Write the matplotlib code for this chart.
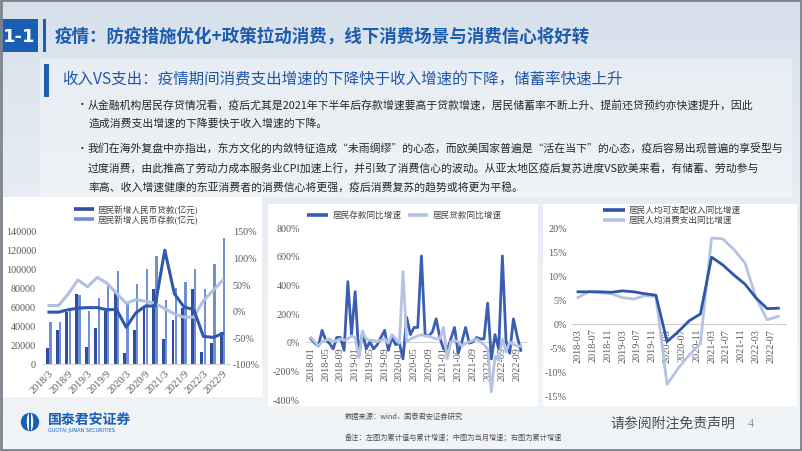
import numpy as np
import matplotlib
matplotlib.use('Agg')
import matplotlib.pyplot as plt
from matplotlib.patches import Rectangle, Ellipse, Circle

plt.rcParams['font.family'] = ['Noto Sans CJK SC', 'DejaVu Sans']

# ---------------- data ----------------
left_cats = ['2018/3', '2018/6', '2018/9', '2018/12', '2019/3', '2019/6', '2019/9', '2019/12',
             '2020/3', '2020/6', '2020/9', '2020/12', '2021/3', '2021/6', '2021/9', '2021/12',
             '2022/3', '2022/6', '2022/9']
new_loans = [17000, 36000, 55000, 74000, 18000, 38000, 56000, 75000, 12000, 36000, 60000, 79000,
             26000, 46000, 59000, 79000, 13000, 22000, 34000]
new_deposits = [44000, 44000, 57000, 73000, 56000, 69000, 84000, 98000, 65000, 84000, 100000, 114000,
                67500, 80000, 86000, 100000, 79000, 105000, 133000]
loan_growth = [-2.5, -2.5, 2, 5, 6, 6, 2, 2.5, -31, -4, 9, 9, 114, 32, 7, 2.5, -48, -50, -43]
deposit_growth = [10, 10, 32, 58, 45, 63, 52, 33, 14, 21, 18, 14, 4, -6, -12, -12, 19, 38, 57]

mid_months = ['2018-01', '2018-02', '2018-03', '2018-04', '2018-05', '2018-06', '2018-07', '2018-08',
              '2018-09', '2018-10', '2018-11', '2018-12', '2019-01', '2019-02', '2019-03', '2019-04',
              '2019-05', '2019-06', '2019-07', '2019-08', '2019-09', '2019-10', '2019-11', '2019-12',
              '2020-01', '2020-02', '2020-03', '2020-04', '2020-05', '2020-06', '2020-07', '2020-08',
              '2020-09', '2020-10', '2020-11', '2020-12', '2021-01', '2021-02', '2021-03', '2021-04',
              '2021-05', '2021-06', '2021-07', '2021-08', '2021-09', '2021-10', '2021-11', '2021-12',
              '2022-01', '2022-02', '2022-03', '2022-04', '2022-05', '2022-06', '2022-07', '2022-08',
              '2022-09', '2022-10']
deposit_yoy = [20, -10, -30, 80, 10, -10, -50, 30, 30, -60, 420, 50, 350, -100, 70, -50, 0, -50, -20, 30,
               80, -60, 30, -20, -10, -120, 170, 50, 100, 100, 600, 50, 40, 70, 160, 30, -50, -60, 20, 100,
               -80, 0, 100, -10, 0, 30, 20, 20, 270, -120, 50, -50, 600, 0, -80, 160, 40, -60]
loan_yoy = [30, 0, -30, 0, 10, 20, 0, 10, 20, 10, 20, 40, 30, -110, 70, 20, 10, 10, 0, 10,
            20, -10, 50, 20, -10, 490, 0, 20, 30, 40, 50, 40, 40, 30, 20, 20, 100, -120, 0, 10,
            0, -30, -10, 0, 10, 20, 0, -20, -50, -350, -100, -130, 20, -70, 0, -20, -30, -30]

right_quarters = ['2018-03', '2018-06', '2018-09', '2018-12', '2019-03', '2019-06', '2019-09', '2019-12',
                  '2020-03', '2020-06', '2020-09', '2020-12', '2021-03', '2021-06', '2021-09', '2021-12',
                  '2022-03', '2022-06', '2022-09']
income_growth = [6.6, 6.6, 6.6, 6.5, 6.8, 6.6, 6.2, 5.9, -3.75, -1.7, 0.6, 2.0, 13.8, 12.2, 10.1, 8.2,
                 5.3, 3.1, 3.2]
consume_growth = [5.4, 6.7, 6.4, 6.2, 5.4, 5.1, 5.8, 5.6, -12.6, -9.3, -6.5, -4.1, 17.8, 17.6, 15.4, 12.6,
                  5.3, 0.8, 1.5]
right_tick_labels = ['2018-03', '2018-07', '2018-11', '2019-03', '2019-07', '2019-11', '2020-03',
                     '2020-07', '2020-11', '2021-03', '2021-07', '2021-11', '2022-03', '2022-07']

# ---------------- figure ----------------
W, H = 802, 452
fig = plt.figure(figsize=(8.02, 4.52), dpi=100)


def rect(x0, y0, x1, y1):
    return [x0 / W, 1 - y1 / H, (x1 - x0) / W, (y1 - y0) / H]


bg = fig.add_axes([0, 0, 1, 1], zorder=0)
bg.set_xlim(0, W)
bg.set_ylim(H, 0)
bg.axis('off')

ys = np.linspace(0, 1, 200)[:, None]
top = np.array([0.84, 0.88, 0.92])
mid = np.array([0.91, 0.93, 0.955])
bot = np.array([0.95, 0.96, 0.97])
g = np.where(ys < 0.45, top + (mid - top) * (ys / 0.45), mid + (bot - mid) * ((ys - 0.45) / 0.55))
grad = np.repeat(g[:, None, :], 2, axis=1).reshape(200, 2, 3)
bg.imshow(grad, extent=[0, W, H, 0], aspect='auto', zorder=0, interpolation='bilinear')

bg.add_patch(Rectangle((40, 60), 752, 138, color='white', alpha=0.35, lw=0, zorder=1))
bg.add_patch(Rectangle((3, 198), 259, 200, color='white', lw=0, zorder=1))
bg.add_patch(Rectangle((268, 205), 270, 202, color='white', lw=0, zorder=1))
bg.add_patch(Rectangle((543, 205), 254, 202, color='white', lw=0, zorder=1))

# title bar
bg.add_patch(Rectangle((0, 20), 38, 33, color='#1a5fb4', lw=0, zorder=2))
bg.text(19, 37, '1-1', color='white', fontsize=13, fontweight='bold', ha='center', va='center',
        family=['DejaVu Sans'], zorder=3)
bg.add_patch(Rectangle((43, 20), 3, 33, color='#1a5fb4', lw=0, zorder=2))
bg.text(55, 37, '疫情：防疫措施优化+政策拉动消费，线下消费场景与消费信心将好转', color='#1b5cae',
        fontsize=12.6, fontweight='bold', ha='left', va='center', zorder=3)

# subtitle
bg.add_patch(Rectangle((44, 65), 5, 33, color='#1a5fb4', lw=0, zorder=2))
bg.text(62, 80, '收入VS支出：疫情期间消费支出增速的下降快于收入增速的下降，储蓄率快速上升', color='#1f56a6',
        fontsize=11.2, fontweight='light', ha='left', va='center', zorder=3)

# bullets
bul_fs = 7.8
lines = [
    (105, True, '从金融机构居民存贷情况看，疫后尤其是2021年下半年后存款增速要高于贷款增速，居民储蓄率不断上升、提前还贷预约亦快速提升，因此'),
    (124, False, '造成消费支出增速的下降要快于收入增速的下降。'),
    (149, True, '我们在海外复盘中亦指出，东方文化的内敛特征造成“未雨绸缪”的心态，而欧美国家普遍是“活在当下”的心态，疫后容易出现普遍的享受型与'),
    (168, False, '过度消费，由此推高了劳动力成本服务业CPI加速上行，并引致了消费信心的波动。从亚太地区疫后复苏进度VS欧美来看，有储蓄、劳动参与'),
    (187, False, '率高、收入增速健康的东亚消费者的消费信心将更强，疫后消费复苏的趋势或将更为平稳。'),
]
for y, b, t in lines:
    if b:
        bg.text(77, y, '•', fontsize=bul_fs, color='#262626', ha='left', va='center', zorder=3)
    bg.text(88, y, t, fontsize=bul_fs, color='#262626', ha='left', va='center', zorder=3)

# footer
bg.add_patch(Circle((30, 423), 8.5, color='#1a5fb4', zorder=2))
bg.add_patch(Ellipse((30, 423), 5, 17, color='white', zorder=3))
bg.add_patch(Rectangle((29.3, 414), 1.4, 18, color='#1a5fb4', lw=0, zorder=4))
bg.text(48, 420, '国泰君安证券', color='#1a5fb4', fontsize=10, fontweight='bold', ha='left', va='center', zorder=3)
bg.text(48, 431, 'GUOTAI JUNAN SECURITIES', color='#1a5fb4', fontsize=3.6, ha='left', va='center',
        family=['DejaVu Sans'], zorder=3)
bg.text(345, 417, '数据来源：wind，国泰君安证券研究', color='#505050', fontsize=5.2, ha='left', va='center', zorder=3)
bg.text(345, 437, '备注：左图为累计值与累计增速；中图为当月增速；右图为累计增速', color='#505050', fontsize=5.2,
        ha='left', va='center', zorder=3)
bg.text(610, 424, '请参阅附注免责声明', color='#4a4a4a', fontsize=10, fontweight='light', ha='left', va='center', zorder=3)
bg.text(748, 424, '4', color='#9a9a9a', fontsize=9, ha='left', va='center', family=['Liberation Serif'], zorder=3)

bg.add_patch(Rectangle((1, 1), W - 2, H - 2, fill=False, edgecolor='#7d848c', lw=2, zorder=5))

SERIF = ['Liberation Serif', 'Noto Sans CJK SC']
TICK_C = '#595959'
TFS = 7.3


def style_axis(ax):
    ax.patch.set_alpha(0)
    for s in ax.spines.values():
        s.set_visible(False)
    ax.tick_params(length=0, labelsize=TFS, labelcolor=TICK_C)


def serif_labels(ax):
    for lab in ax.get_xticklabels() + ax.get_yticklabels():
        lab.set_family(SERIF)


# ---------------- left chart ----------------
axL = fig.add_axes(rect(43, 232, 230, 365), zorder=2)
style_axis(axL)
axL.spines['bottom'].set_visible(True)
axL.spines['bottom'].set_color('#d0d0d0')
xi = np.arange(len(left_cats))
axL.bar(xi - 0.15, new_loans, width=0.3, color='#2f4e9e', zorder=2)
axL.bar(xi + 0.15, new_deposits, width=0.24, color='#6f8fd6', zorder=2)
axL.set_ylim(0, 140000)
axL.set_xlim(-0.62, 18.76)
axL.set_yticks(np.arange(0, 140001, 20000))
axL.set_yticklabels([str(v) for v in range(0, 140001, 20000)])
axL.set_xticks(xi[::2])
axL.set_xticklabels(left_cats[::2], rotation=45, ha='right', rotation_mode='anchor')
axL.tick_params(axis='y', pad=5)
axL.tick_params(axis='x', pad=3)
serif_labels(axL)

axL2 = axL.twinx()
style_axis(axL2)
axL2.plot(xi, deposit_growth, color='#b3c1e0', lw=2.2, zorder=3)
axL2.plot(xi, loan_growth, color='#3158aa', lw=2.2, zorder=4)
axL2.set_ylim(-100, 150)
axL2.set_yticks(np.arange(-100, 151, 50))
axL2.set_yticklabels(['%d%%' % v for v in range(-100, 151, 50)])
axL2.tick_params(axis='y', pad=2)
serif_labels(axL2)

ov = fig.add_axes([0, 0, 1, 1], zorder=6)
ov.set_xlim(0, W)
ov.set_ylim(H, 0)
ov.axis('off')
LFS = 6.2
ov.plot([74, 94], [210, 210], color='#2f4e9e', lw=2.6, solid_capstyle='butt')
ov.text(98, 210, '居民新增人民币贷款(亿元)', fontsize=LFS, color='#404040', va='center', family=SERIF)
ov.plot([74, 94], [220, 220], color='#6f8fd6', lw=2.6, solid_capstyle='butt')
ov.text(98, 220, '居民新增人民币存款(亿元)', fontsize=LFS, color='#404040', va='center', family=SERIF)

# ---------------- middle chart ----------------
axM = fig.add_axes(rect(305.5, 228.3, 526.3, 400), zorder=2)
style_axis(axM)
axM.spines['bottom'].set_visible(True)
axM.spines['bottom'].set_position(('data', 0))
axM.spines['bottom'].set_color('#d0d0d0')
mi = np.arange(len(mid_months))
axM.plot(mi, deposit_yoy, color='#3a5eb4', lw=2.0, zorder=3)
axM.plot(mi, loan_yoy, color='#b4c3e4', lw=2.0, zorder=4)
axM.set_ylim(-400, 800)
axM.set_xlim(-1.5, 58.5)
axM.set_yticks(np.arange(-400, 801, 200))
axM.set_yticklabels(['%d%%' % v for v in range(-400, 801, 200)])
axM.set_xticks(mi[::4])
axM.set_xticklabels(mid_months[::4], rotation=90, ha='center', va='top')
axM.tick_params(axis='y', pad=4)
axM.tick_params(axis='x', pad=3)
serif_labels(axM)

ov.plot([307, 328], [216, 216], color='#3a5eb4', lw=2.6, solid_capstyle='butt')
ov.text(333, 216, '居民存款同比增速', fontsize=LFS, color='#404040', va='center', family=SERIF)
ov.plot([408, 428], [216, 216], color='#b4c3e4', lw=2.6, solid_capstyle='butt')
ov.text(433, 216, '居民贷款同比增速', fontsize=LFS, color='#404040', va='center', family=SERIF)

# ---------------- right chart ----------------
axR = fig.add_axes(rect(572.4, 228.3, 785.8, 396.8), zorder=2)
style_axis(axR)
axR.spines['bottom'].set_visible(True)
axR.spines['bottom'].set_position(('data', 0))
axR.spines['bottom'].set_color('#d0d0d0')
qi = np.arange(len(right_quarters)) * 3
axR.plot(qi, consume_growth, color='#b4c3e4', lw=2.0, zorder=3)
axR.plot(qi, income_growth, color='#2f55a8', lw=2.0, zorder=4)
axR.set_ylim(-15, 20)
axR.set_xlim(-1.5, 56)
axR.set_yticks(np.arange(-15, 21, 5))
axR.set_yticklabels(['%d%%' % v for v in range(-15, 21, 5)])
axR.set_xticks(np.arange(len(right_tick_labels)) * 4)
axR.set_xticklabels(right_tick_labels, rotation=90, ha='center', va='top')
axR.tick_params(axis='y', pad=4)
axR.tick_params(axis='x', pad=3)
serif_labels(axR)

ov.plot([603, 625], [211, 211], color='#2f55a8', lw=2.6, solid_capstyle='butt')
ov.text(629, 211, '居民人均可支配收入同比增速', fontsize=LFS, color='#404040', va='center', family=SERIF)
ov.plot([603, 625], [221, 221], color='#b4c3e4', lw=2.6, solid_capstyle='butt')
ov.text(629, 221, '居民人均消费支出同比增速', fontsize=LFS, color='#404040', va='center', family=SERIF)

fig.savefig('out.png', dpi=100)
